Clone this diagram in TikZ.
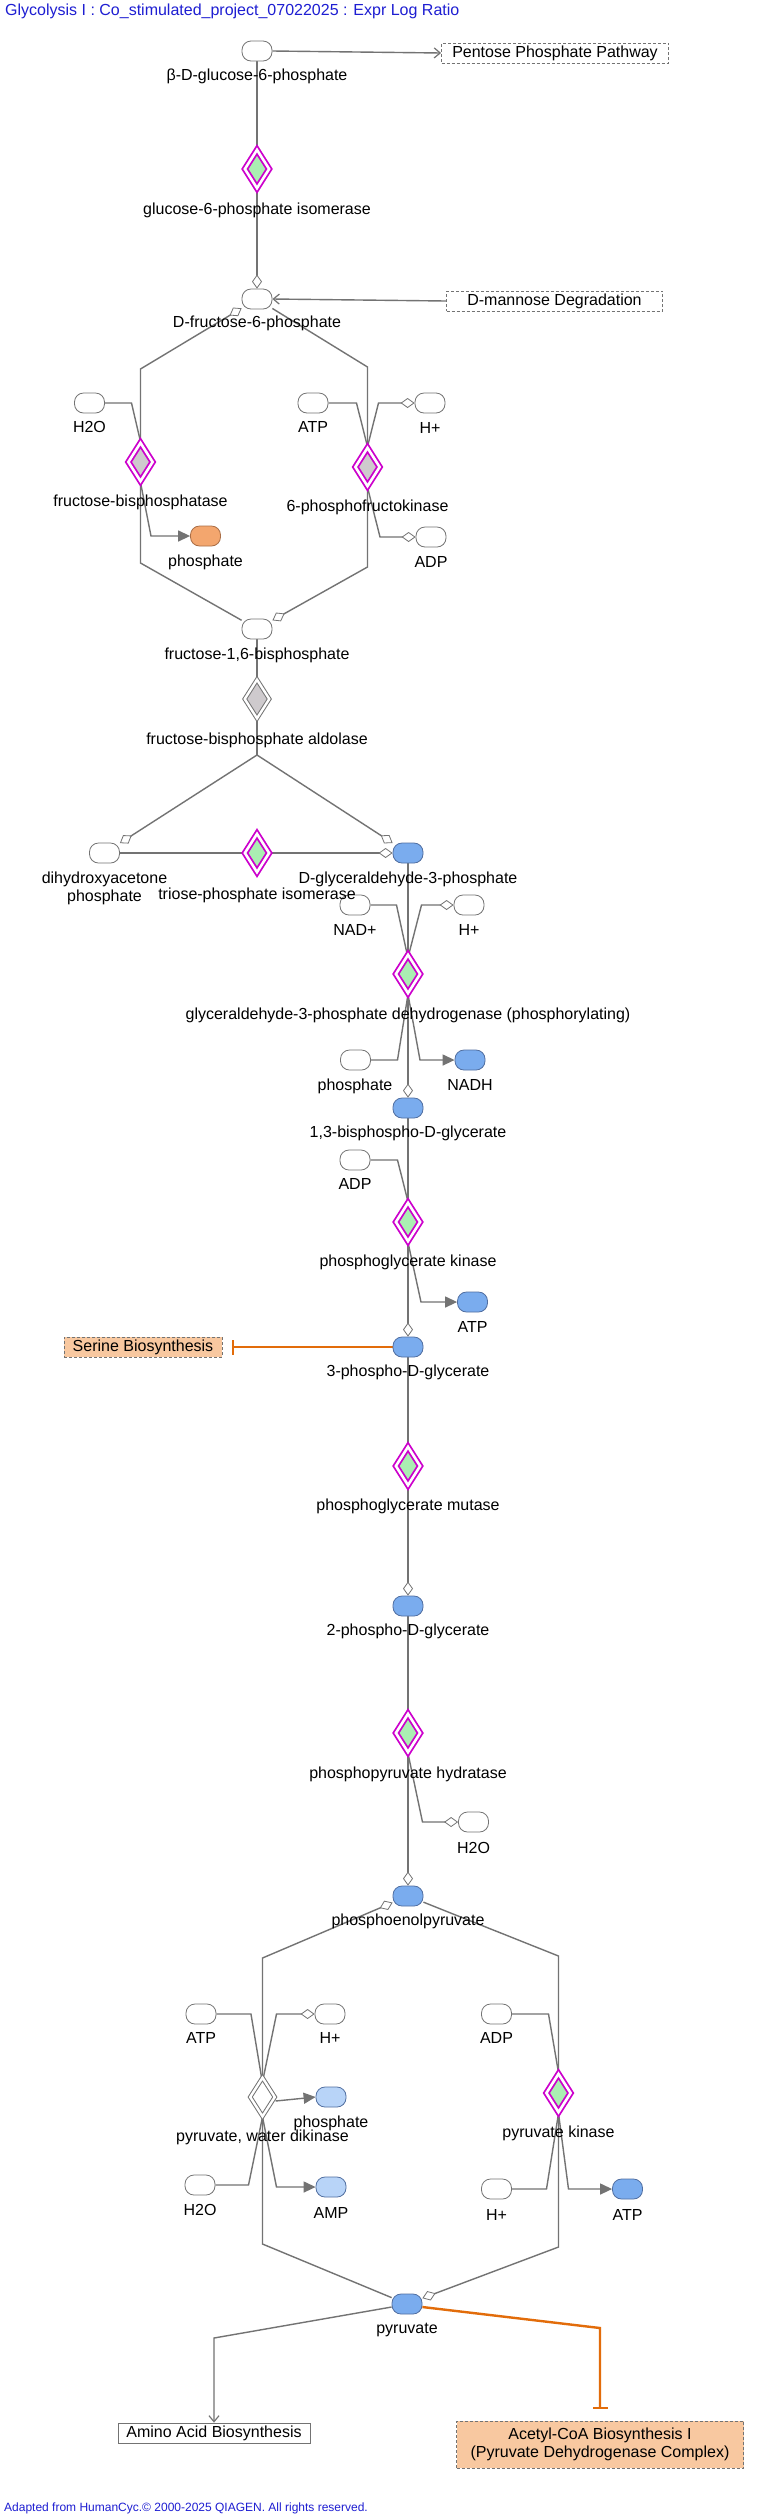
\documentclass[tikz,border=0pt]{standalone}
\usepackage{fontspec}
\setmainfont{Liberation Sans}
\usetikzlibrary{shapes.geometric,arrows.meta}
\definecolor{lnc}{RGB}{115,115,115}
\definecolor{magc}{RGB}{204,0,204}
\definecolor{grnc}{RGB}{170,238,178}
\definecolor{gryc}{RGB}{206,202,205}
\definecolor{bluc}{RGB}{122,172,238}
\definecolor{lbluc}{RGB}{184,212,248}
\definecolor{ornc}{RGB}{243,166,110}
\definecolor{ostrk}{RGB}{170,110,70}
\definecolor{oboxc}{RGB}{248,200,160}
\definecolor{olinc}{RGB}{226,108,10}
\definecolor{ttlc}{RGB}{30,30,210}
\definecolor{bstrk}{RGB}{80,110,160}
\newcommand\lblfont{\fontsize{16}{18}\selectfont}
\newcommand\ftfont{\fontsize{12}{14}\selectfont}
\pgfdeclarelayer{bg}
\pgfsetlayers{bg,main}
\tikzset{
  met/.style={rectangle, rounded corners=9pt, minimum width=30pt, minimum height=20pt, inner sep=0pt, draw=lnc, line width=0.8pt, fill=white},
  metb/.style={met, fill=bluc, draw=bstrk},
  metlb/.style={met, fill=lbluc, draw=bstrk},
  meto/.style={met, fill=ornc, draw=ostrk},
  enz/.style={diamond, inner sep=0pt, minimum width=25pt, minimum height=39pt, draw=magc, line width=1.8pt, double=white, double distance=2.6pt, fill=grnc},
  enzg/.style={enz, fill=gryc},
  enzn/.style={enz, draw=lnc, fill=gryc, line width=1pt, double distance=2.4pt},
  enzw/.style={enz, draw=lnc, fill=white, line width=1pt, double distance=2.4pt},
  txt/.style={font=\lblfont, inner sep=0pt, text=black},
  pbox/.style={rectangle, draw=lnc, line width=0.8pt, dash pattern=on 3pt off 2pt, fill=white, minimum height=20pt, inner sep=0pt, font=\lblfont},
  pboxo/.style={pbox, fill=oboxc},
  conn/.style={draw=lnc, line width=1.4pt},
  odia/.style={conn, -{Diamond[fill=white, length=14pt, width=10pt, line width=0.8pt]}},
  farr/.style={conn, -{Triangle[length=12pt, width=11pt]}},
  barb/.style={conn, -{Straight Barb[length=6pt, width=10pt, line width=1.2pt]}},
  inh/.style={draw=olinc, line width=2.4pt, -{Bar[width=15pt, line width=1.6pt]}},
}
\begin{document}
\begin{tikzpicture}[x=1pt,y=-1pt]
\begin{pgfonlayer}{bg}
\fill[white] (0,0) rectangle (783,2517);
\end{pgfonlayer}
\useasboundingbox (0,0) rectangle (783,2517);
\node[anchor=west, font=\lblfont, text=ttlc, inner sep=0pt] (title) at (5,11) {Glycolysis I : Co\_stimulated\_project\_07022025 : Expr Log Ratio};
\node[anchor=west, font=\ftfont, text=ttlc, inner sep=0pt] (foot) at (4,2508) {Adapted from HumanCyc.© 2000-2025 QIAGEN. All rights reserved.};
% metabolites
\node[met] (g6p) at (257,51) {};
\node[met] (f6p) at (257,299) {};
\node[met] (h2oA) at (89.5,403) {};
\node[met] (atpA) at (313,403) {};
\node[met] (hA) at (430,403) {};
\node[meto] (piA) at (205.5,536) {};
\node[met] (adpA) at (431,537) {};
\node[met] (fbp) at (257,629) {};
\node[met] (dhap) at (104.5,853) {};
\node[metb] (gap) at (408,853) {};
\node[met] (nad) at (355,905) {};
\node[met] (hB) at (469,905) {};
\node[met] (piB) at (355.5,1060) {};
\node[metb] (nadh) at (470,1060) {};
\node[metb] (bpg) at (408,1108) {};
\node[met] (adpB) at (355,1160) {};
\node[metb] (atpB) at (472.5,1302) {};
\node[metb] (pg3) at (408,1347) {};
\node[metb] (pg2) at (408,1606) {};
\node[met] (h2oB) at (473.5,1822) {};
\node[metb] (pep) at (408,1896) {};
\node[met] (atpC) at (201,2014) {};
\node[met] (hC) at (330,2014) {};
\node[met] (adpC) at (496.5,2014) {};
\node[metlb] (piC) at (331,2097) {};
\node[met] (h2oC) at (200,2185) {};
\node[metlb] (amp) at (331,2187) {};
\node[met] (hD) at (496.5,2189) {};
\node[metb] (atpD) at (627.5,2189) {};
\node[metb] (pyr) at (407,2304) {};
% enzymes
\node[enz] (gpi) at (257,169) {};
\node[enzg] (fbpase) at (140.5,462) {};
\node[enzg] (pfk) at (367.5,467) {};
\node[enzn] (ald) at (257,699) {};
\node[enz] (tpi) at (257,853) {};
\node[enz] (gapdh) at (408,974) {};
\node[enz] (pgk) at (408,1222) {};
\node[enz] (pgm) at (408,1466) {};
\node[enz] (eno) at (408,1733) {};
\node[enzw] (pwd) at (262.5,2097) {};
\node[enz] (pk) at (558.5,2093) {};
% pathway boxes
\node[pbox, minimum width=227pt] (pentose) at (555,53) {Pentose Phosphate Pathway};
\node[pbox, minimum width=216pt] (mannose) at (554.5,301) {D-mannose Degradation};
\node[pboxo, minimum width=158pt] (serine) at (143,1347) {Serine Biosynthesis};
\node[pbox, solid, minimum width=192pt] (amino) at (214,2433) {Amino Acid Biosynthesis};
\node[pboxo, minimum width=287pt, minimum height=47pt, align=center] (acetyl) at (600,2444.5) {Acetyl-CoA Biosynthesis I\\(Pyruvate Dehydrogenase Complex)};
% labels
\node[txt] (g6pL) at (257,76) {β-D-glucose-6-phosphate};
\node[txt] (gpiL) at (257,210) {glucose-6-phosphate isomerase};
\node[txt] (f6pL) at (257,323) {D-fructose-6-phosphate};
\node[txt] (h2oAL) at (89.5,427) {H2O};
\node[txt] (fbpaseL) at (140.5,502) {fructose-bisphosphatase};
\node[txt] (piAL) at (205.5,562) {phosphate};
\node[txt] (atpAL) at (313,427) {ATP};
\node[txt] (hAL) at (430,428) {H+};
\node[txt] (pfkL) at (367.5,507) {6-phosphofructokinase};
\node[txt] (adpAL) at (431,562) {ADP};
\node[txt] (fbpL) at (257,655) {fructose-1,6-bisphosphate};
\node[txt] (aldL) at (257,740) {fructose-bisphosphate aldolase};
\node[txt, align=center] (dhapL) at (104.5,888) {dihydroxyacetone\\phosphate};
\node[txt] (tpiL) at (257,895) {triose-phosphate isomerase};
\node[txt] (gapL) at (408,879) {D-glyceraldehyde-3-phosphate};
\node[txt] (nadL) at (355,930) {NAD+};
\node[txt] (hBL) at (469,930) {H+};
\node[txt] (gapdhL) at (408,1015) {glyceraldehyde-3-phosphate dehydrogenase (phosphorylating)};
\node[txt] (piBL) at (355,1086) {phosphate};
\node[txt] (nadhL) at (470,1085) {NADH};
\node[txt] (bpgL) at (408,1133) {1,3-bisphospho-D-glycerate};
\node[txt] (adpBL) at (355,1184) {ADP};
\node[txt] (pgkL) at (408,1262) {phosphoglycerate kinase};
\node[txt] (atpBL) at (472.5,1327) {ATP};
\node[txt] (pg3L) at (408,1372) {3-phospho-D-glycerate};
\node[txt] (pgmL) at (408,1506) {phosphoglycerate mutase};
\node[txt] (pg2L) at (408,1631) {2-phospho-D-glycerate};
\node[txt] (enoL) at (408,1774) {phosphopyruvate hydratase};
\node[txt] (h2oBL) at (473.5,1848) {H2O};
\node[txt] (pepL) at (408,1921) {phosphoenolpyruvate};
\node[txt] (atpCL) at (201,2038) {ATP};
\node[txt] (hCL) at (330,2038) {H+};
\node[txt] (adpCL) at (496.5,2038) {ADP};
\node[txt] (piCL) at (331,2123) {phosphate};
\node[txt] (pwdL) at (262.5,2137) {pyruvate, water dikinase};
\node[txt] (pkL) at (558.5,2133) {pyruvate kinase};
\node[txt] (h2oCL) at (200,2210) {H2O};
\node[txt] (ampL) at (331,2213) {AMP};
\node[txt] (hDL) at (496.5,2215) {H+};
\node[txt] (atpDL) at (627.5,2215) {ATP};
\node[txt] (pyrL) at (407,2330) {pyruvate};
% connectors
\begin{pgfonlayer}{bg}
\draw[barb] (g6p.east) -- (pentose.west);
\draw[odia] (g6p.south) -- (f6p.north);
\draw[barb] (mannose.west) -- (f6p.east);
\draw[odia] (fbp) -- (140.5,563) -- (140.5,369) -- (f6p);
\draw[odia] (f6p) -- (367.5,367) -- (367.5,567) -- (fbp);
\draw[conn] (h2oA.east) -- (131.5,403) -- (fbpase.north);
\draw[farr] (fbpase.south) -- (151,536) -- (piA.west);
\draw[conn] (atpA.east) -- (356.5,403) -- (pfk.north);
\draw[odia] (pfk.north) -- (378.5,403) -- (hA.west);
\draw[odia] (pfk.south) -- (380,537) -- (adpA.west);
\draw[conn] (fbp.south) -- (257,755);
\draw[odia] (257,755) -- (dhap);
\draw[odia] (257,755) -- (gap);
\draw[odia] (dhap.east) -- (gap.west);
\draw[odia] (gap.south) -- (bpg.north);
\draw[conn] (nad.east) -- (396.5,905) -- ([xshift=-1pt]gapdh.north);
\draw[odia] ([xshift=1pt]gapdh.north) -- (421.5,905) -- (hB.west);
\draw[conn] (piB.east) -- (397.5,1060) -- (gapdh.south);
\draw[farr] (gapdh.south) -- (420,1060) -- (nadh.west);
\draw[odia] (bpg.south) -- (pg3.north);
\draw[conn] (adpB.east) -- (397.5,1160) -- (pgk.north);
\draw[farr] (pgk.south) -- (421,1302) -- (atpB.west);
\draw[inh] (pg3.west) -- ([xshift=10pt]serine.east);
\draw[odia] (pg3.south) -- (pg2.north);
\draw[odia] (pg2.south) -- (pep.north);
\draw[odia] (eno.south) -- (422.5,1822) -- (h2oB.west);
\draw[odia] (pyr) -- (262.5,2244) -- (262.5,1958) -- (pep);
\draw[odia] (pep) -- (558.5,1956) -- (558.5,2247) -- (pyr);
\draw[conn] (atpC.east) -- (251,2014) -- ([xshift=-1pt]pwd.north);
\draw[odia] ([xshift=1pt]pwd.north) -- (276.5,2014) -- (hC.west);
\draw[farr] ([yshift=-4pt]pwd.east) -- (piC.west);
\draw[conn] (h2oC.east) -- (248.5,2185) -- (pwd.south);
\draw[farr] (pwd.south) -- (276.5,2187) -- (amp.west);
\draw[conn] (adpC.east) -- (548.5,2014) -- (pk.north);
\draw[conn] (hD.east) -- (546.5,2189) -- (pk.south);
\draw[farr] (pk.south) -- (568.5,2189) -- (atpD.west);
\draw[barb] ([yshift=-3pt]pyr.west) -- (214,2338) -- (amino.north);
\draw[inh] ([yshift=-3pt]pyr.east) -- (600,2328) -- ([yshift=12pt]acetyl.north);
\end{pgfonlayer}
\end{tikzpicture}
\end{document}
